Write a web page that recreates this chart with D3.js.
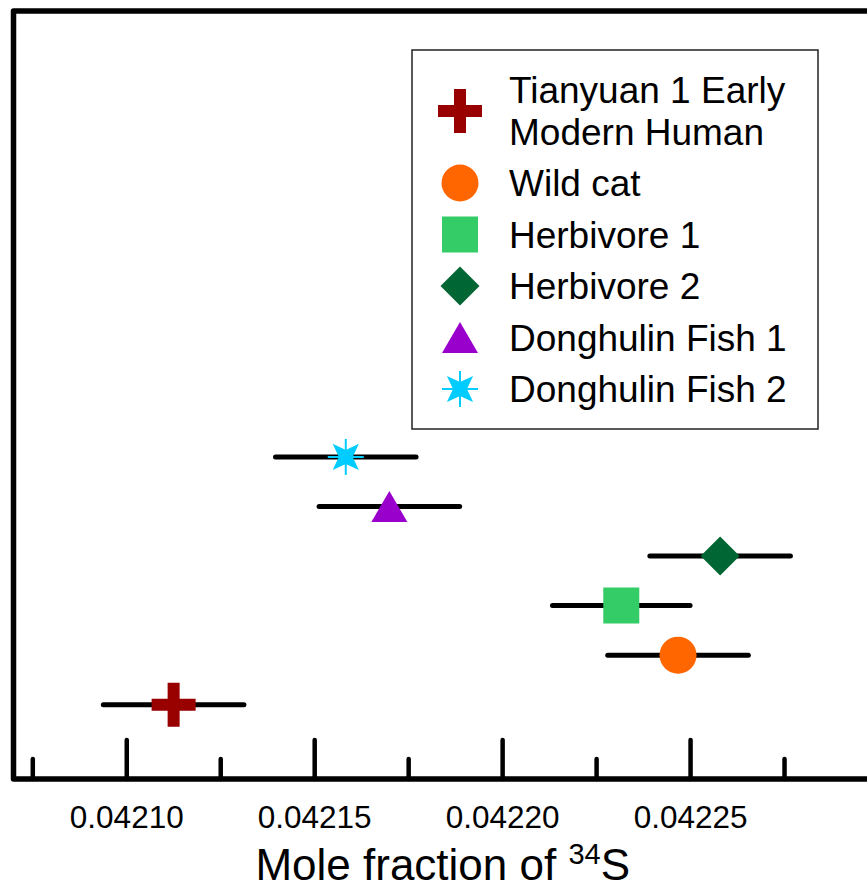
<!DOCTYPE html>
<html>
<head>
<meta charset="utf-8">
<script src="https://cdn.jsdelivr.net/npm/d3@7"></script>
<style>
  body { margin: 0; background: #fff; }
  svg { display: block; font-family: "Liberation Sans", Arial, sans-serif; }
</style>
</head>
<body>
<div id="vis"></div>
<script>
// data
const species = ["Tianyuan 1 Early Modern Human", "Wild cat", "Herbivore 1",
                 "Herbivore 2", "Donghulin Fish 1", "Donghulin Fish 2"];
const legendLines = [["Tianyuan 1 Early", "Modern Human"], ["Wild cat"], ["Herbivore 1"],
                     ["Herbivore 2"], ["Donghulin Fish 1"], ["Donghulin Fish 2"]];
const moleFraction = [0.0421126, 0.0422468, 0.0422317, 0.0422580, 0.0421700, 0.0421584];
const errors = [0.0000187, 0.0000187, 0.0000183, 0.0000187, 0.0000187, 0.0000187];
const rank = [1, 2, 3, 4, 5, 6];
const markers = ["cross", "circle", "square", "diamond", "triangle", "star"];
const colors = ["#990000", "#ff6600", "#33cc66", "#006633", "#9900cc", "#00ccff"];
const majorTicks = [0.04210, 0.04215, 0.04220, 0.04225];
const minorTicks = [0.042075, 0.042125, 0.042175, 0.042225, 0.042275];

const width = 867, height = 888;
const margin = {top: 11, left: 13.5, bottom: 109};
const plotRight = 878;

let svg = d3.select("#vis")
    .append("svg")
    .attr("width", width)
    .attr("height", height);

let x = d3.scaleLinear()
    .domain([0.04207, 0.04230])
    .range([margin.left, plotRight]);

let y = d3.scaleLinear()
    .domain([-0.5, 15])
    .range([height - margin.bottom, margin.top]);

// marker shapes, centred on 0,0
function markerPath(type) {
    let p = d3.path();
    if (type === "cross") {
        let a = 22, t = 6;
        p.moveTo(-t, -a); p.lineTo(t, -a); p.lineTo(t, -t); p.lineTo(a, -t);
        p.lineTo(a, t); p.lineTo(t, t); p.lineTo(t, a); p.lineTo(-t, a);
        p.lineTo(-t, t); p.lineTo(-a, t); p.lineTo(-a, -t); p.lineTo(-t, -t);
        p.closePath();
    } else if (type === "circle") {
        p.arc(0, 0, 18.5, 0, 2 * Math.PI);
    } else if (type === "square") {
        p.rect(-18, -18, 36, 36);
    } else if (type === "diamond") {
        p.moveTo(0, -19.5); p.lineTo(19.5, 0); p.lineTo(0, 19.5); p.lineTo(-19.5, 0);
        p.closePath();
    } else if (type === "triangle") {
        p.moveTo(0, -15.5); p.lineTo(18, 15.5); p.lineTo(-18, 15.5);
        p.closePath();
    } else if (type === "star") {
        // four diagonal spikes, concave at the sides
        for (let i = 0; i < 8; i++) {
            let ang = -Math.PI / 4 + i * Math.PI / 4;
            let r = i % 2 === 0 ? 18.5 : 7;
            if (i === 0) p.moveTo(r * Math.cos(ang), r * Math.sin(ang));
            else p.lineTo(r * Math.cos(ang), r * Math.sin(ang));
        }
        p.closePath();
    }
    return p.toString();
}

function drawMarker(g, type, color) {
    g.append("path")
        .attr("d", markerPath(type))
        .attr("fill", color);
    if (type === "star") {
        g.append("line").attr("x1", 0).attr("x2", 0).attr("y1", -18).attr("y2", 18)
            .attr("stroke", color).attr("stroke-width", 2);
        g.append("line").attr("x1", -18).attr("x2", 18).attr("y1", 0).attr("y2", 0)
            .attr("stroke", color).attr("stroke-width", 2);
    }
}

////////// axes //////////

let axisY = height - margin.bottom;

let minorAxis = svg.append("g")
    .attr("transform", "translate(0," + axisY + ")")
    .call(d3.axisBottom(x).tickValues(minorTicks).tickSize(-20).tickFormat(""));

let majorAxis = svg.append("g")
    .attr("transform", "translate(0," + axisY + ")")
    .call(d3.axisBottom(x).tickValues(majorTicks).tickSize(-39).tickPadding(27)
        .tickFormat(d3.format(".5f")));

svg.selectAll(".domain").remove();
svg.selectAll(".tick line")
    .attr("stroke", "#000")
    .attr("stroke-width", 4.5)
    .attr("stroke-linecap", "round");
majorAxis.selectAll(".tick text")
    .attr("font-size", 31.5)
    .attr("font-family", "Liberation Sans, Arial, sans-serif")
    .attr("fill", "#000");

// frame
svg.append("rect")
    .attr("x", margin.left)
    .attr("y", margin.top)
    .attr("width", plotRight - margin.left)
    .attr("height", axisY - margin.top)
    .attr("fill", "none")
    .attr("stroke", "#000")
    .attr("stroke-width", 5.5)
    .attr("stroke-linejoin", "round");

// axis title
let title = svg.append("text")
    .attr("x", (margin.left + plotRight) / 2 - 3)
    .attr("y", 880)
    .attr("text-anchor", "middle")
    .attr("font-size", 44)
    .attr("fill", "#000");
title.append("tspan").text("Mole fraction of ");
title.append("tspan").attr("font-size", 29).attr("dy", -16).text("34");
title.append("tspan").attr("dy", 16).text("S");

////////// points //////////

let plot = svg.append("g").attr("class", "plot");

let points = plot.selectAll(".point")
    .data(species.map((s, i) => ({name: s, value: moleFraction[i], err: errors[i],
        rank: rank[i], marker: markers[i], color: colors[i]})))
    .enter()
    .append("g")
    .attr("class", "point");

points.append("line")
    .attr("x1", d => x(d.value - d.err))
    .attr("x2", d => x(d.value + d.err))
    .attr("y1", d => y(d.rank))
    .attr("y2", d => y(d.rank))
    .attr("stroke", "#000")
    .attr("stroke-width", 5)
    .attr("stroke-linecap", "round");

points.each(function (d) {
    let g = d3.select(this).append("g")
        .attr("transform", "translate(" + x(d.value) + "," + y(d.rank) + ")");
    drawMarker(g, d.marker, d.color);
});

////////// legend //////////

let legend = svg.append("g").attr("class", "legend");

legend.append("rect")
    .attr("x", 412)
    .attr("y", 50)
    .attr("width", 406)
    .attr("height", 379)
    .attr("fill", "#fff")
    .attr("stroke", "#222")
    .attr("stroke-width", 1.5);

let rowY = [111, 183, 234.5, 286, 337.5, 389];

species.forEach((s, i) => {
    let g = legend.append("g").attr("transform", "translate(460," + rowY[i] + ")");
    drawMarker(g, markers[i], colors[i]);
    let lines = legendLines[i];
    let t = legend.append("text")
        .attr("x", 509)
        .attr("font-size", 37)
        .attr("fill", "#000");
    lines.forEach((ln, j) => {
        t.append("tspan")
            .attr("x", 509)
            .attr("y", rowY[i] + 13 - (lines.length - 1) * 21 + j * 42)
            .text(ln);
    });
});
</script>
</body>
</html>
